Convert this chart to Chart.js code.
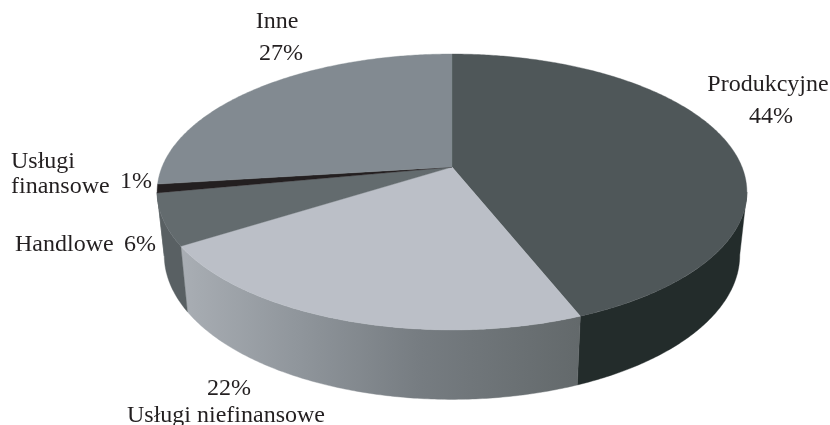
<!DOCTYPE html>
<html lang="pl">
<head>
<meta charset="utf-8">
<style>
  html, body { margin: 0; padding: 0; background: #ffffff; }
  #wrap { width: 830px; height: 425px; }
  canvas { display: block; }
</style>
<script src="https://cdn.jsdelivr.net/npm/chart.js@4/dist/chart.umd.min.js"></script>
</head>
<body>
<div id="wrap"><canvas id="pie" width="830" height="425"></canvas></div>
<script>
// Struktura: udział sektorów w procentach
const categories = ['Produkcyjne', 'Usługi niefinansowe', 'Handlowe', 'Usługi finansowe', 'Inne'];
const shares = [44, 22, 6, 1, 27];
const faceColors = ['#4f5759', '#bbbfc7', '#636b6e', '#231f20', '#828a91'];
const wallColors = ['#232c2b', null, '#596063', '#596063', '#6a7277'];
const frontWallStops = [[0, '#a9aeb4'], [0.3, '#8f959b'], [0.6, '#767c81'], [1, '#63696b']];

// Opisy: tekst, położenie i wyrównanie; null oznacza wartość procentową wycinka
const captionRows = [
  { slice: 0, text: 'Produkcyjne', x: 768, y: 91, align: 'center' },
  { slice: 0, text: null, x: 771, y: 123, align: 'center' },
  { slice: 1, text: null, x: 229, y: 395, align: 'center' },
  { slice: 1, text: 'Usługi niefinansowe', x: 226, y: 422, align: 'center' },
  { slice: 2, text: 'Handlowe', x: 15, y: 251, align: 'left' },
  { slice: 2, text: null, x: 124, y: 251, align: 'left' },
  { slice: 3, text: 'Usługi', x: 11, y: 168, align: 'left' },
  { slice: 3, text: 'finansowe', x: 11, y: 193, align: 'left' },
  { slice: 3, text: null, x: 120, y: 188, align: 'left' },
  { slice: 4, text: 'Inne', x: 277, y: 28, align: 'center' },
  { slice: 4, text: null, x: 281, y: 60, align: 'center' }
];

// Rzut perspektywiczny okręgu dla górnej i dolnej podstawy walca
const APEX_X = 452;
const TILT = 0.181;
const topDisc = { scaleX: 290, offsetY: 167, scaleY: 103.2 };
const baseDisc = { scaleX: 283, offsetY: 228.9, scaleY: 98.2 };

function project(disc, angle) {
  const u = Math.cos(angle), v = Math.sin(angle), w = 1 - TILT * v;
  return {
    x: APEX_X + disc.scaleX * u / w,
    y: (disc.offsetY + disc.scaleY * v) / w
  };
}

function traceArc(ctx, disc, from, to, move) {
  const steps = Math.max(2, Math.ceil(Math.abs(to - from) / 0.01));
  for (let i = 0; i <= steps; i++) {
    const p = project(disc, from + (to - from) * i / steps);
    if (i === 0 && move) ctx.moveTo(p.x, p.y); else ctx.lineTo(p.x, p.y);
  }
}

const solidPie = {
  id: 'solidPie',
  beforeDatasetsDraw(chart) {
    const ctx = chart.ctx;
    const arcs = chart.getDatasetMeta(0).data;
    const sideRight = Math.asin(TILT);
    const sideLeft = Math.PI - sideRight;

    // Ściany boczne widoczne od frontu
    arcs.forEach((arc, i) => {
      const from = Math.max(arc.startAngle, sideRight);
      const to = Math.min(arc.endAngle, sideLeft);
      if (to <= from) return;
      const left = project(topDisc, to), right = project(topDisc, from);
      let fill = wallColors[i];
      if (!fill) {
        fill = ctx.createLinearGradient(left.x, 0, right.x, 0);
        frontWallStops.forEach(([pos, col]) => fill.addColorStop(pos, col));
      }
      ctx.beginPath();
      traceArc(ctx, topDisc, from, to, true);
      traceArc(ctx, baseDisc, to, from, false);
      ctx.closePath();
      ctx.fillStyle = fill;
      ctx.strokeStyle = fill;
      ctx.lineWidth = 0.4;
      ctx.fill();
      ctx.stroke();
    });

    // Górna powierzchnia wycinków
    const apex = { x: APEX_X, y: topDisc.offsetY };
    arcs.forEach((arc) => {
      ctx.beginPath();
      ctx.moveTo(apex.x, apex.y);
      traceArc(ctx, topDisc, arc.startAngle, arc.endAngle, false);
      ctx.closePath();
      ctx.fillStyle = arc.options.backgroundColor;
      ctx.strokeStyle = arc.options.backgroundColor;
      ctx.lineWidth = 0.4;
      ctx.fill();
      ctx.stroke();
    });
    return false;
  },
  afterDraw(chart) {
    const ctx = chart.ctx;
    const values = chart.data.datasets[0].data;
    ctx.save();
    ctx.fillStyle = '#231f20';
    ctx.font = '24px "Liberation Serif"';
    ctx.textBaseline = 'alphabetic';
    captionRows.forEach((row) => {
      ctx.textAlign = row.align;
      ctx.fillText(row.text === null ? values[row.slice] + '%' : row.text, row.x, row.y);
    });
    ctx.restore();
  }
};

new Chart(document.getElementById('pie'), {
  type: 'pie',
  data: {
    labels: categories,
    datasets: [{ data: shares, backgroundColor: faceColors, borderWidth: 0 }]
  },
  options: {
    responsive: false,
    animation: false,
    rotation: 0,
    plugins: { legend: { display: false }, tooltip: { enabled: false } }
  },
  plugins: [solidPie]
});
</script>
</body>
</html>
